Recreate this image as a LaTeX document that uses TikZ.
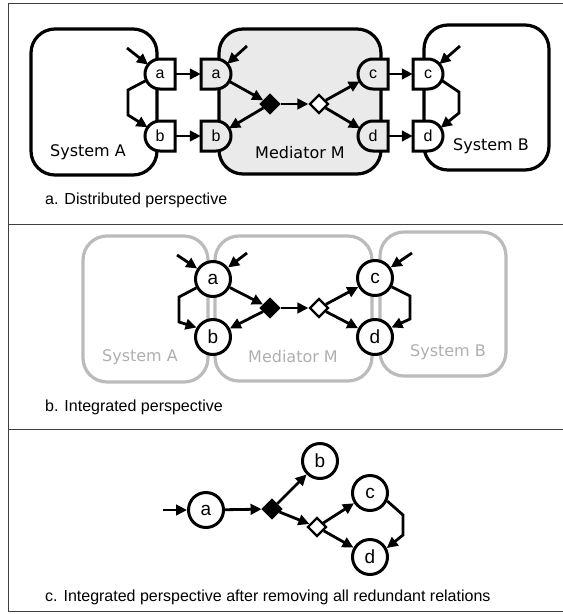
\documentclass[tikz,border=0pt]{standalone}
\usepackage{fontspec}
\setmainfont{Liberation Sans}
\newfontfamily\verd{DejaVu Sans}
\usetikzlibrary{arrows.meta,shapes.geometric,calc}
\definecolor{medgray}{HTML}{EAEAEA}
\definecolor{boxgray}{HTML}{BBBBBB}
\definecolor{txtgray}{HTML}{AFAFAF}
\newcommand\portL[3]{\filldraw[portline,fill=#3] (#1,#2-15) arc[start angle=270,end angle=90,radius=15] -- (#1+15,#2+15) -- (#1+15,#2-15) -- cycle;}
\newcommand\portR[3]{\filldraw[portline,fill=#3] (#1,#2-15) arc[start angle=270,end angle=450,radius=15] -- (#1-15,#2+15) -- (#1-15,#2-15) -- cycle;}
\begin{document}
\begin{tikzpicture}[x=1pt,y=-1pt,
  frame/.style={line width=0.9pt,draw=black!75},
  sysbox/.style={line width=3.2pt,rounded corners=24pt,draw=black},
  gbox/.style={line width=3.2pt,rounded corners=24pt,draw=boxgray},
  portline/.style={line width=3pt,draw=black,line join=miter},
  portn/.style={circle,minimum size=30pt,inner sep=0pt,font=\fontsize{16}{16}\selectfont},
  nb/.style={circle,draw,line width=3pt,fill=white,minimum size=35pt,inner sep=0pt,font=\fontsize{19}{19}\selectfont},
  dia/.style={diamond,draw,line width=2.2pt,minimum size=19pt,inner sep=0pt},
  conn/.style={line width=2.8pt,-{Triangle[length=11pt,width=10.5pt]},line join=miter},
  systxt/.style={font=\verd\fontsize{16}{16}\selectfont},
  caption/.style={anchor=west,inner sep=0pt,font=\fontsize{16}{18}\selectfont}]
\useasboundingbox (0,0) rectangle (563,614);
% frame
\draw[frame] (563,3) -- (8.5,3) -- (8.5,611) -- (563,611);
\draw[frame] (8.5,224) -- (563,224);
\draw[frame] (8.5,429) -- (563,429);

% ---------- panel a ----------
\draw[sysbox] (31,29) rectangle (157,175);
\draw[sysbox,fill=medgray] (219,29) rectangle (381,174);
\draw[sysbox] (424,25) rectangle (549,170);
\node[systxt] (tA) at (88,152) {System A};
\node[systxt] (tM) at (300,153) {Mediator M};
\node[systxt] (tB) at (491,146) {System B};

\portL{160}{74}{white}
\portL{160}{136}{white}
\portR{216}{74}{medgray}
\portR{216}{136}{medgray}
\portL{373}{74}{medgray}
\portL{373}{136}{medgray}
\portR{428}{74}{white}
\portR{428}{136}{white}
\node[portn] (pAa) at (160,74) {a};
\node[portn] (pAb) at (160,136) {b};
\node[portn] (pMa) at (216,74) {a};
\node[portn] (pMb) at (216,136) {b};
\node[portn] (pMc) at (373,74) {c};
\node[portn] (pMd) at (373,136) {d};
\node[portn] (pBc) at (428,74) {c};
\node[portn] (pBd) at (428,136) {d};
\node[dia,fill=black] (adk) at (270,104) {};
\node[dia,fill=white] (adw) at (319,104) {};
\coordinate (inAa) at (127,48);
\coordinate (inMa) at (247,46);
\coordinate (inBc) at (460,46);

\draw[conn] (inAa) -- (pAa);
\draw[conn] (inMa) -- (pMa);
\draw[conn] (inBc) -- (pBc);
\draw[conn] (pAa.east) -- (pMa.west);
\draw[conn] (pAb.east) -- (pMb.west);
\draw[conn] (pMc.east) -- (pBc.west);
\draw[conn] (pMd.east) -- (pBd.west);
\draw[conn] (pAa.205) -- (128,90) -- (128,115) -- (pAb.145);
\draw[conn] (pBc.-25) -- (459,92) -- (459,113) -- (pBd.33);
\draw[conn] (pMa) -- (adk);
\draw[conn] (adk) -- (pMb);
\draw[conn] (adk) -- (adw);
\draw[conn] (adw) -- (pMc);
\draw[conn] (adw) -- (pMd);
\node[caption] (capa) at (45,200) {a. Distributed perspective};

% ---------- panel b ----------
\draw[gbox] (83,236) rectangle (208,382);
\draw[gbox] (215,236) rectangle (372,381);
\draw[gbox] (380,232) rectangle (506,376);
\node[systxt,text=txtgray] (gA) at (140,357) {System A};
\node[systxt,text=txtgray] (gM) at (293,357) {Mediator M};
\node[systxt,text=txtgray] (gB) at (448,352) {System B};
\node[nb] (ba) at (213,279) {a};
\node[nb] (bb) at (213,337) {b};
\node[nb] (bc) at (375,278) {c};
\node[nb] (bd) at (375,337) {d};
\node[dia,fill=black] (bdk) at (270,308) {};
\node[dia,fill=white] (bdw) at (319,308) {};
\coordinate (inba1) at (177,255);
\coordinate (inba2) at (247,253);
\coordinate (inbc) at (412,253);
\draw[conn] (inba1) -- (ba);
\draw[conn] (inba2) -- (ba);
\draw[conn] (inbc) -- (bc);
\draw[conn] (ba.208) -- (179,297) -- (179,322) -- (bb.150);
\draw[conn] (bc.-28) -- (410,296) -- (410,319) -- (bd.30);
\draw[conn] (ba) -- (bdk);
\draw[conn] (bdk) -- (bb);
\draw[conn] (bdk) -- (bdw);
\draw[conn] (bdw) -- (bc);
\draw[conn] (bdw) -- (bd);
\node[caption] (capb) at (45,407) {b. Integrated perspective};

% ---------- panel c ----------
\node[nb] (ca) at (206,510) {a};
\node[nb] (cb) at (320,461) {b};
\node[nb] (cc) at (370,493) {c};
\node[nb] (cd) at (370,557) {d};
\node[dia,fill=black] (cdk) at (272,509) {};
\node[dia,fill=white] (cdw) at (317,527) {};
\coordinate (inca) at (163,510);
\draw[conn] (inca) -- (ca);
\draw[conn] (ca) -- (cdk);
\draw[conn] (cdk) -- (cb);
\draw[conn] (cdk) -- (cdw);
\draw[conn] (cdw) -- (cc);
\draw[conn] (cdw) -- (cd);
\draw[conn] (cc.-25) -- (403,515) -- (403,535) -- (cd.28);
\node[caption] (capc) at (45,597) {c. Integrated perspective after removing all redundant relations};
\end{tikzpicture}
\end{document}
